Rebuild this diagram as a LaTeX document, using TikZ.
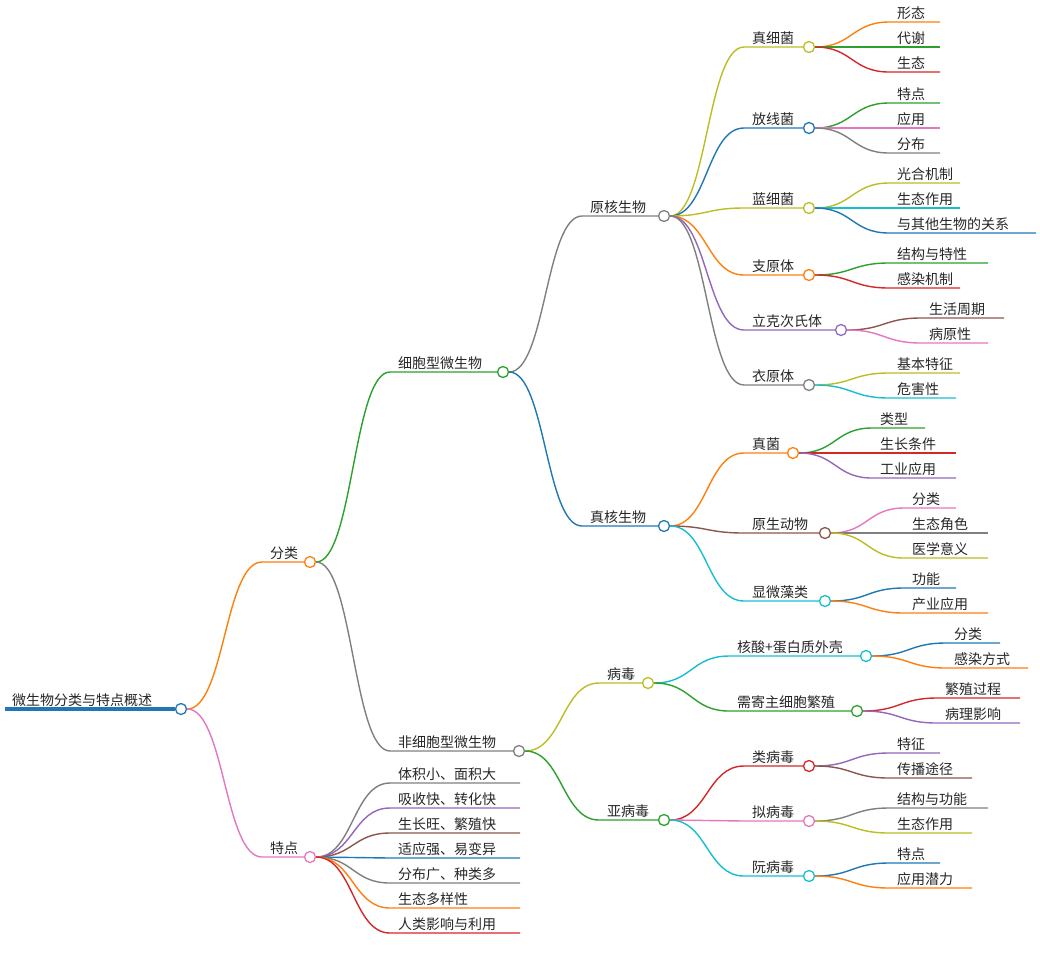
\documentclass[tikz,border=0pt]{standalone}
\usepackage{fontspec}
\setmainfont{Noto Sans CJK SC}
\usetikzlibrary{calc}
\definecolor{cor}{HTML}{FF7F0E}\definecolor{cgr}{HTML}{2CA02C}\definecolor{cbl}{HTML}{1F77B4}
\definecolor{cgy}{HTML}{7F7F7F}\definecolor{col}{HTML}{BCBD22}\definecolor{crd}{HTML}{D62728}
\definecolor{cpk}{HTML}{E377C2}\definecolor{cpu}{HTML}{9467BD}\definecolor{cbr}{HTML}{8C564B}
\definecolor{ccy}{HTML}{17BECF}
\tikzset{lbl/.style={anchor=base west,inner sep=0pt,font=\fontsize{14}{14}\selectfont,text=black!85},
 dot/.style={circle,draw=#1,fill=white,line width=1.3pt,minimum size=11pt,inner sep=0pt},
 lnk/.style={draw=#1,line width=1.4pt}}
% \nd{name}{parent}{xs}{xc}{y}{color}{text}
\newcommand\nd[7]{%
 \path[lnk=#6] let \p1=(#2.east), \p2=(#3,#5) in (\p1) .. controls ({(\x1+\x2)/2},\y1) and ({(\x1+\x2)/2},\y2) .. (\p2) -- (#4,#5);
 \node[lbl] (#1t) at (#3+8,#5-4) {#7};
 \node[dot=#6] (#1) at (#4+5.5,#5) {};}
\newcommand\lf[7]{%
 \path[lnk=#6] let \p1=(#2.east), \p2=(#3,#5) in (\p1) .. controls ({(\x1+\x2)/2},\y1) and ({(\x1+\x2)/2},\y2) .. (\p2) -- (#4,#5);
 \node[lbl] (#1) at (#3+8,#5-4) {#7};}
\begin{document}
\begin{tikzpicture}[x=1pt,y=-1pt]
\useasboundingbox (0,0) rectangle (1040,962);
\draw[cbl,line width=3.5pt] (5,709) -- (175,709);
\node[lbl] (roott) at (12,705) {微生物分类与特点概述};
\node[dot=cbl] (root) at (181,709) {};
\nd{fl}{root}{262}{304.5}{562}{cor}{分类}
\nd{td}{root}{262}{304.5}{857}{cpk}{特点}
\nd{xb}{fl}{390}{497.5}{372}{cgr}{细胞型微生物}
\nd{fx}{fl}{390}{513.5}{751}{cgy}{非细胞型微生物}
\nd{yh}{xb}{582}{658.5}{216}{cgy}{原核生物}
\nd{zh}{xb}{582}{658.5}{526}{cbl}{真核生物}
\nd{zx}{yh}{744}{803.5}{47}{col}{真细菌}
\lf{a1}{zx}{889}{940}{22}{cor}{形态}
\lf{a2}{zx}{889}{940}{47}{cgr}{代谢}
\lf{a3}{zx}{889}{940}{72}{crd}{生态}
\nd{fxj}{yh}{744}{803.5}{128}{cbl}{放线菌}
\lf{b1}{fxj}{889}{940}{103}{cgr}{特点}
\lf{b2}{fxj}{889}{940}{128}{cpk}{应用}
\lf{b3}{fxj}{889}{940}{153}{cgy}{分布}
\nd{lx}{yh}{744}{803.5}{208}{col}{蓝细菌}
\lf{c1}{lx}{889}{960}{183}{col}{光合机制}
\lf{c2}{lx}{889}{960}{208}{ccy}{生态作用}
\lf{c3}{lx}{889}{1036}{233}{cbl}{与其他生物的关系}
\nd{zy}{yh}{744}{803.5}{275}{cor}{支原体}
\lf{d1}{zy}{889}{988}{263}{cgr}{结构与特性}
\lf{d2}{zy}{889}{960}{288}{crd}{感染机制}
\nd{lk}{yh}{744}{835.5}{330}{cpu}{立克次氏体}
\lf{e1}{lk}{921}{1004}{318}{cbr}{生活周期}
\lf{e2}{lk}{921}{988}{343}{cpk}{病原性}
\nd{yy}{yh}{744}{803.5}{385}{cgy}{衣原体}
\lf{f1}{yy}{889}{960}{373}{col}{基本特征}
\lf{f2}{yy}{889}{956}{398}{ccy}{危害性}
\nd{zj}{zh}{744}{787.5}{453}{cor}{真菌}
\lf{g1}{zj}{872}{925}{428}{cgr}{类型}
\lf{g2}{zj}{872}{956}{453}{crd}{生长条件}
\lf{g3}{zj}{872}{956}{478}{cpu}{工业应用}
\nd{ys}{zh}{744}{819.5}{533}{cbr}{原生动物}
\lf{h1}{ys}{904}{956}{508}{cpk}{分类}
\lf{h2}{ys}{904}{988}{533}{cgy}{生态角色}
\lf{h3}{ys}{904}{988}{558}{col}{医学意义}
\nd{xw}{zh}{744}{819.5}{601}{ccy}{显微藻类}
\lf{i1}{xw}{904}{956}{588}{cbl}{功能}
\lf{i2}{xw}{904}{988}{613}{cor}{产业应用}
\nd{bd}{fx}{599}{642.5}{683}{col}{病毒}
\nd{yb}{fx}{599}{658.5}{820}{cgr}{亚病毒}
\nd{hs}{bd}{729}{860.5}{656}{ccy}{核酸+蛋白质外壳}
\lf{j1}{hs}{946}{1000}{643}{cbl}{分类}
\lf{j2}{hs}{946}{1028}{668}{cor}{感染方式}
\nd{xj}{bd}{729}{851.5}{711}{cgr}{需寄主细胞繁殖}
\lf{k1}{xj}{937}{1020}{698}{crd}{繁殖过程}
\lf{k2}{xj}{937}{1020}{723}{cpu}{病理影响}
\nd{lb}{yb}{744}{803.5}{766}{crd}{类病毒}
\lf{l1}{lb}{889}{940}{753}{cpu}{特征}
\lf{l2}{lb}{889}{972}{778}{cbr}{传播途径}
\nd{nb}{yb}{744}{803.5}{821}{cpk}{拟病毒}
\lf{m1}{nb}{889}{988}{808}{cgy}{结构与功能}
\lf{m2}{nb}{889}{972}{833}{col}{生态作用}
\nd{rb}{yb}{744}{803.5}{876}{ccy}{阮病毒}
\lf{n1}{rb}{889}{940}{863}{cbl}{特点}
\lf{n2}{rb}{889}{972}{888}{cor}{应用潜力}
\lf{p1}{td}{390}{520}{783}{cgy}{体积小、面积大}
\lf{p2}{td}{390}{520}{808}{cpu}{吸收快、转化快}
\lf{p3}{td}{390}{520}{833}{cbr}{生长旺、繁殖快}
\lf{p4}{td}{390}{520}{858}{cbl}{适应强、易变异}
\lf{p5}{td}{390}{520}{883}{cgy}{分布广、种类多}
\lf{p6}{td}{390}{520}{908}{cor}{生态多样性}
\lf{p7}{td}{390}{520}{933}{crd}{人类影响与利用}
\end{tikzpicture}
\end{document}
